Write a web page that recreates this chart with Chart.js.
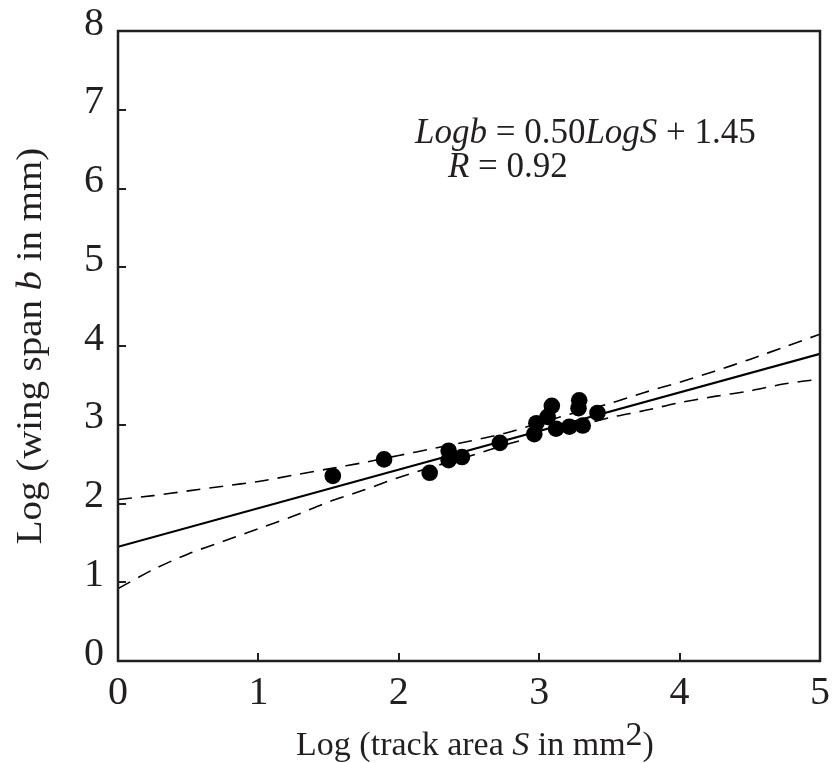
<!DOCTYPE html>
<html><head><meta charset="utf-8">
<script src="https://cdn.jsdelivr.net/npm/chart.js@4.4.1/dist/chart.umd.min.js"></script>
<style>html,body{margin:0;padding:0;background:#fff}#wrap{width:833px;height:763px}</style>
</head><body><div id="wrap"><canvas id="c" width="833" height="763"></canvas></div>
<script>
// ---- data ----
const xTicks = [0, 1, 2, 3, 4, 5];
const yTicks = [0, 1, 2, 3, 4, 5, 6, 7, 8];
const logS = [1.53, 1.895, 2.22, 2.355, 2.355, 2.45, 2.72, 2.965, 2.98, 3.06, 3.09, 3.12, 3.215, 3.28, 3.285, 3.31, 3.415];
const logB = [2.35, 2.56, 2.39, 2.67, 2.55, 2.59, 2.77, 2.88, 3.02, 3.10, 3.24, 2.95, 2.975, 3.21, 3.31, 2.99, 3.15];
const fitX = [0, 5];
const fitY = [1.45, 3.90];
const bandX     = [0, 0.25, 0.5, 0.75, 1.0, 1.25, 1.5, 1.75, 2.0, 2.25, 2.5, 2.75, 3.0, 3.25, 3.5, 3.75, 4.0, 4.25, 4.5, 4.75, 5.0];
const bandUpper = [2.05, 2.10, 2.16, 2.22, 2.28, 2.36, 2.44, 2.52, 2.61, 2.70, 2.79, 2.89, 3.02, 3.15, 3.27, 3.41, 3.54, 3.68, 3.83, 3.99, 4.15];
const bandLower = [0.92, 1.16, 1.36, 1.52, 1.68, 1.84, 2.02, 2.17, 2.33, 2.47, 2.60, 2.74, 2.86, 2.97, 3.09, 3.18, 3.28, 3.36, 3.43, 3.52, 3.58];
const eqLine1 = [{t:'Logb', i:true}, {t:' = 0.50'}, {t:'LogS', i:true}, {t:' + 1.45'}];
const eqLine2 = [{t:'R', i:true}, {t:' = 0.92'}];
const xTitle = [{t:'Log (track area '}, {t:'S', i:true}, {t:' in mm'}, {t:'2', sup:true}, {t:')'}];
const yTitle = [{t:'Log (wing span '}, {t:'b', i:true}, {t:' in mm)'}];

const INK = '#231f20';
const SERIF = '"Liberation Serif", "DejaVu Serif", serif';
const pts = (xs, ys) => xs.map((x, k) => ({x, y: ys[k]}));

function drawRich(ctx, parts, x, y, size, align) {
  const fontOf = p => (p.i ? 'italic ' : '') + size + 'px ' + SERIF;
  let w = 0;
  parts.forEach(p => { ctx.font = fontOf(p); w += ctx.measureText(p.t).width; });
  let cx = align === 'center' ? x - w / 2 : x;
  ctx.textAlign = 'left';
  ctx.textBaseline = 'alphabetic';
  parts.forEach(p => {
    ctx.font = fontOf(p);
    ctx.fillText(p.t, cx, p.sup ? y - size * 0.3 : y);
    cx += ctx.measureText(p.t).width;
  });
}

const textPlugin = {
  id: 'textPlugin',
  afterDraw(chart) {
    const ctx = chart.ctx, a = chart.chartArea, sx = chart.scales.x, sy = chart.scales.y;
    ctx.save();
    ctx.strokeStyle = INK; ctx.lineWidth = 2.5;
    ctx.strokeRect(a.left, a.top, a.right - a.left, a.bottom - a.top);
    ctx.fillStyle = INK;
    drawRich(ctx, eqLine1, sx.getPixelForValue(2.115), sy.getPixelForValue(6.58), 35, 'left');
    drawRich(ctx, eqLine2, sx.getPixelForValue(2.35), sy.getPixelForValue(6.15), 35, 'left');
    drawRich(ctx, xTitle, (a.left + a.right) / 2 + 6, 755, 34, 'center');
    ctx.translate(41, (a.top + a.bottom) / 2);
    ctx.rotate(-Math.PI / 2);
    ctx.scale(1.08, 1);
    drawRich(ctx, yTitle, 0, 0, 36, 'center');
    ctx.restore();
  }
};

const zeroPad = s => { s.paddingLeft = 0; s.paddingRight = 0; s.paddingTop = 0; s.paddingBottom = 0; };

new Chart(document.getElementById('c'), {
  type: 'scatter',
  data: {
    datasets: [
      { data: pts(logS, logB), pointRadius: 8.3, pointHoverRadius: 8.3, backgroundColor: '#000', borderColor: '#000', borderWidth: 0, showLine: false },
      { data: pts(fitX, fitY), showLine: true, pointRadius: 0, borderColor: '#000', borderWidth: 2.2 },
      { data: pts(bandX, bandUpper), showLine: true, pointRadius: 0, borderColor: '#000', borderWidth: 1.6, borderDash: [14, 9], tension: 0.3 },
      { data: pts(bandX, bandLower), showLine: true, pointRadius: 0, borderColor: '#000', borderWidth: 1.6, borderDash: [14, 9], tension: 0.3 }
    ]
  },
  options: {
    responsive: false, animation: false, devicePixelRatio: 1,
    layout: { padding: { left: 0, right: 13, top: 31, bottom: 0 } },
    plugins: { legend: { display: false }, tooltip: { enabled: false } },
    scales: {
      x: {
        type: 'linear', min: 0, max: 5, position: 'bottom',
        afterBuildTicks: s => { s.ticks = xTicks.map(v => ({value: v})); },
        afterFit: s => { s.height = 102; zeroPad(s); },
        ticks: { color: INK, font: { family: SERIF, size: 40 }, padding: 16, maxRotation: 0, autoSkip: false },
        grid: { drawOnChartArea: false, tickLength: -8, lineWidth: 2, color: INK },
        border: { display: false }
      },
      y: {
        type: 'linear', min: 0, max: 8,
        afterBuildTicks: s => { s.ticks = yTicks.map(v => ({value: v})); },
        afterFit: s => { s.width = 118; zeroPad(s); },
        ticks: { color: INK, font: { family: SERIF, size: 40 }, padding: 22, labelOffset: -7, autoSkip: false },
        grid: { drawOnChartArea: false, tickLength: -8, lineWidth: 2, color: INK },
        border: { display: false }
      }
    }
  },
  plugins: [textPlugin]
});
</script></body></html>
